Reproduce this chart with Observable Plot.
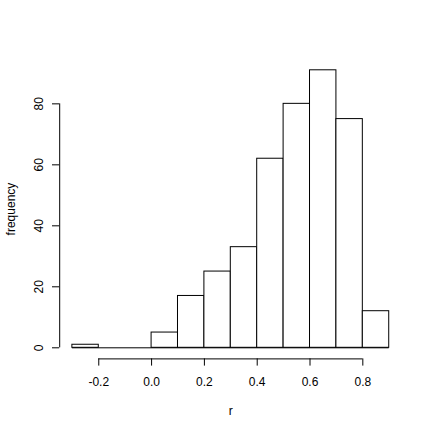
<!DOCTYPE html>
<html>
<head>
<meta charset="utf-8">
<script src="https://cdn.jsdelivr.net/npm/d3@7"></script>
<script src="https://cdn.jsdelivr.net/npm/@observablehq/plot@0.6"></script>
<style>
  html, body { margin: 0; padding: 0; background: #fff; }
  #chart svg { display: block; }
</style>
</head>
<body>
<div id="chart"></div>
<script>
// Data
const binEdges = [-0.3, -0.2, -0.1, 0.0, 0.1, 0.2, 0.3, 0.4, 0.5, 0.6, 0.7, 0.8, 0.9];
const counts   = [1, 0, 0, 5, 17, 25, 33, 62, 80, 91, 75, 12];
const xTicks = [-0.2, 0.0, 0.2, 0.4, 0.6, 0.8];
const yTicks = [0, 20, 40, 60, 80];
const xLabel = "r";
const yLabel = "frequency";

const bins = counts.map((c, i) => ({x1: binEdges[i], x2: binEdges[i + 1], count: c}));

// R-style 4% axis extension
const xr = [binEdges[0], binEdges[binEdges.length - 1]];
const xExt = (xr[1] - xr[0]) * 0.04;
const yMax = d3.max(counts);
const yExt = yMax * 0.04;
const xDomain = [xr[0] - xExt, xr[1] + xExt];
const yDomain = [0 - yExt, yMax + yExt];

const font = "'Liberation Sans', Arial, Helvetica, sans-serif";

const chart = Plot.plot({
  width: 432,
  height: 432,
  marginLeft: 59.2,
  marginRight: 30.6,
  marginTop: 58.7,
  marginBottom: 73.6,
  style: {fontFamily: font, fontSize: "12px", background: "#fff", color: "#000", overflow: "visible"},
  x: {domain: xDomain, axis: null},
  y: {domain: yDomain, axis: null},
  marks: [
    // bars
    Plot.rect(bins, {x1: "x1", x2: "x2", y1: 0, y2: "count", fill: "white", stroke: "black", strokeWidth: 1}),
    // baseline of bars (covers zero-height bins)
    Plot.ruleY([0], {x1: xr[0], x2: xr[1], stroke: "black", strokeWidth: 1}),
    // y axis line
    Plot.ruleX([xDomain[0]], {y1: yTicks[0], y2: yTicks[yTicks.length - 1], stroke: "black", strokeWidth: 1}),
    Plot.axisY({ticks: yTicks, tickSize: 7.2, tickFormat: () => "", anchor: "left", label: null, stroke: "black", strokeWidth: 1}),
    Plot.text(yTicks, {y: d => d, text: d => String(d), frameAnchor: "left", dx: -16.8, rotate: -90, textAnchor: "middle", lineAnchor: "bottom", fontSize: 12, fill: "black"}),
    // x axis line
    Plot.ruleY([yDomain[0]], {x1: xTicks[0], x2: xTicks[xTicks.length - 1], stroke: "black", strokeWidth: 1}),
    Plot.axisX({ticks: xTicks, tickSize: 7.2, tickFormat: () => "", anchor: "bottom", label: null, stroke: "black", strokeWidth: 1}),
    Plot.text(xTicks, {x: d => d, text: d => d.toFixed(1), frameAnchor: "bottom", dy: 26.6, lineAnchor: "bottom", fontSize: 12, fill: "black"}),
    // axis titles
    Plot.text([xLabel], {text: d => d, frameAnchor: "bottom", dy: 55.6, lineAnchor: "bottom", fontSize: 12, fill: "black"}),
    Plot.text([yLabel], {text: d => d, frameAnchor: "left", dx: -45.2, rotate: -90, textAnchor: "middle", lineAnchor: "bottom", fontSize: 12, fill: "black"})
  ]
});

document.getElementById("chart").appendChild(chart);
</script>
</body>
</html>
